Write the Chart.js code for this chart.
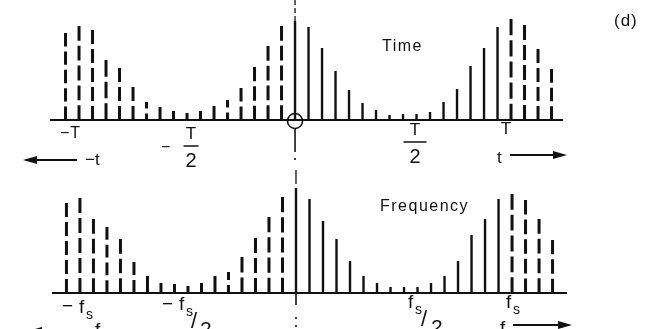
<!DOCTYPE html>
<html>
<head>
<meta charset="utf-8">
<script src="https://cdn.jsdelivr.net/npm/chart.js@4.4.1/dist/chart.umd.min.js"></script>
<style>
  html, body { margin: 0; padding: 0; background: #fff; }
  #wrap { position: relative; width: 650px; height: 329px; overflow: hidden; }
  .panel { position: absolute; left: 0; width: 650px; }
  #timePanel { top: 0; height: 175px; }
  #freqPanel { top: 165px; height: 164px; }
</style>
</head>
<body>
<div id="wrap">
  <div class="panel" id="timePanel"><canvas id="timeChart"></canvas></div>
  <div class="panel" id="freqPanel"><canvas id="freqChart"></canvas></div>
</div>
<script>
// sample index n; one period is 16 samples (n = 0..15 drawn solid, the rest dashed)
const sampleIdx = [-17, -16, -15, -14, -13, -12, -11, -10, -9, -8, -7, -6, -5, -4, -3, -2, -1,
                   0, 1, 2, 3, 4, 5, 6, 7, 8, 9, 10, 11, 12, 13, 14, 15, 16, 17, 18, 19];
const timeHeights = [87, 94, 90, 60, 52, 33, 18, 13, 9, 7, 9, 14, 20, 32, 53, 74, 94,
                     99, 93, 72, 49, 30, 17, 10, 5, 6, 6, 8, 18, 31, 54, 72, 93, 101, 95, 71, 51];
const freqHeights = [90, 95, 74, 66, 54, 31, 17, 10, 9, 7, 10, 17, 21, 36, 55, 76, 96,
                     105, 94, 72, 54, 32, 17, 10, 6, 6, 6, 10, 17, 32, 58, 74, 94, 99, 93, 74, 53];
const periodFirst = 0;
const periodLast = 15;
const ink = '#111';
const font = '"Liberation Sans", Arial, sans-serif';

function stemPoints(heights, keep) {
  const pts = [];
  sampleIdx.forEach((n, i) => {
    if (!keep(n)) return;
    pts.push({x: n, y: 0}, {x: n, y: heights[i]}, {x: n, y: null});
  });
  return pts;
}

// dash pattern for a stem of length len px: dashes at both ends, gaps of 5px
function stemDash(len) {
  const gap = 5;
  const k = Math.max(1, Math.round(len / 22 + 0.7));
  if (k === 1) return [];
  return [(len - (k - 1) * gap) / k, gap];
}

function seg(ctx, x1, y1, x2, y2) {
  ctx.beginPath();
  ctx.moveTo(x1, y1);
  ctx.lineTo(x2, y2);
  ctx.stroke();
}

// horizontal arrow, tip at xTip
function arrow(ctx, xTail, xTip, y) {
  const d = xTip > xTail ? 1 : -1;
  ctx.lineWidth = 1.8;
  ctx.setLineDash([]);
  seg(ctx, xTail, y, xTip - d * 10, y);
  ctx.beginPath();
  ctx.moveTo(xTip, y);
  ctx.lineTo(xTip - d * 14, y - 4);
  ctx.lineTo(xTip - d * 14, y + 4);
  ctx.closePath();
  ctx.fill();
}

function text(ctx, str, x, y, size, spacing) {
  ctx.font = size + 'px ' + font;
  ctx.letterSpacing = (spacing || 0) + 'px';
  ctx.textAlign = 'left';
  ctx.textBaseline = 'alphabetic';
  ctx.fillText(str, x, y);
}

function textC(ctx, str, x, y, size) {
  ctx.font = size + 'px ' + font;
  ctx.letterSpacing = '0px';
  ctx.textAlign = 'center';
  ctx.textBaseline = 'alphabetic';
  ctx.fillText(str, x, y);
}

// T over 2 with a bar between
function frac(ctx, x, y, barW) {
  textC(ctx, 'T', x, y, 17);
  ctx.lineWidth = 1.5;
  ctx.setLineDash([]);
  seg(ctx, x - barW / 2, y + 7, x + barW / 2, y + 7);
  textC(ctx, '2', x, y + 28, 20);
}

// f with subscript s
function fs(ctx, x, y) {
  text(ctx, 'f', x, y, 19);
  text(ctx, 's', x + 7, y + 6, 14);
}

const timeDecor = {
  id: 'timeDecor',
  beforeDatasetsDraw(chart) {
    const {ctx, scales: {x, y}} = chart;
    const x0 = x.getPixelForValue(0), y0 = y.getPixelForValue(0);
    ctx.save();
    ctx.strokeStyle = ink;
    ctx.lineWidth = 1.3;
    ctx.setLineDash([5, 3]);
    seg(ctx, x0, 0, x0, y0);
    ctx.restore();
  },
  afterDatasetsDraw(chart) {
    const {ctx, chartArea, scales: {x, y}} = chart;
    const x0 = x.getPixelForValue(0), y0 = y.getPixelForValue(0);
    ctx.save();
    ctx.strokeStyle = ink;
    ctx.fillStyle = ink;
    ctx.lineWidth = 2;
    seg(ctx, chartArea.left, y0, chartArea.right, y0);

    // origin marker and the axis through it
    ctx.lineWidth = 1.6;
    ctx.beginPath();
    ctx.arc(x0, y0 + 1, 7.5, 0, Math.PI * 2);
    ctx.stroke();
    seg(ctx, x0, y0 + 8, x0, y0 + 32);
    ctx.setLineDash([2, 6]);
    seg(ctx, x0, y0 + 38, x0, 165);
    ctx.setLineDash([]);

    const pT = x.getPixelForValue(16), pmT = x.getPixelForValue(-16);
    const pH = x.getPixelForValue(8), pmH = x.getPixelForValue(-8);

    text(ctx, '\u2212T', pmT - 19, y0 + 18, 16, 1);
    text(ctx, '\u2212', pmH - 26, y0 + 32, 16);
    frac(ctx, pmH + 4, y0 + 19, 15);
    frac(ctx, pH + 12, y0 + 15, 23);
    textC(ctx, 'T', pT - 5, y0 + 14, 17);

    arrow(ctx, 77, 23, y0 + 40);
    text(ctx, '\u2212t', 85, y0 + 45, 17);
    arrow(ctx, 510, 567, y0 + 35);
    text(ctx, 't', 497, y0 + 43, 17);

    text(ctx, 'Time', 382, 51, 16, 1.5);
    text(ctx, '(d)', 614, 26, 17, 1);
    ctx.restore();
  }
};

const freqDecor = {
  id: 'freqDecor',
  beforeDatasetsDraw(chart) {
    const {ctx, scales: {x, y}} = chart;
    const x0 = x.getPixelForValue(0), y0 = y.getPixelForValue(0);
    ctx.save();
    ctx.strokeStyle = ink;
    ctx.lineWidth = 1.3;
    ctx.setLineDash([2, 7, 14, 4]);
    seg(ctx, x0, -4, x0, y0);
    ctx.restore();
  },
  afterDatasetsDraw(chart) {
    const {ctx, chartArea, scales: {x, y}} = chart;
    const x0 = x.getPixelForValue(0), y0 = y.getPixelForValue(0);
    ctx.save();
    ctx.strokeStyle = ink;
    ctx.fillStyle = ink;
    ctx.lineWidth = 2;
    seg(ctx, chartArea.left, y0, chartArea.right, y0);

    ctx.lineWidth = 1.6;
    seg(ctx, x0, y0, x0, y0 + 12);
    ctx.setLineDash([2, 6]);
    seg(ctx, x0, y0 + 24, x0, chart.height);
    ctx.setLineDash([]);

    const pF = x.getPixelForValue(16), pmF = x.getPixelForValue(-16);
    const pH = x.getPixelForValue(8), pmH = x.getPixelForValue(-8);

    // -fs and fs
    text(ctx, '\u2212', pmF - 18, y0 + 19, 19);
    fs(ctx, pmF - 1, y0 + 20);
    fs(ctx, pF - 6, y0 + 15);

    // -fs/2 and fs/2
    text(ctx, '\u2212', pmH - 26, y0 + 17, 19);
    fs(ctx, pmH - 9, y0 + 17);
    text(ctx, '/', pmH + 3, y0 + 35, 22);
    text(ctx, '2', pmH + 12, y0 + 43, 21);
    fs(ctx, pH + 4, y0 + 15);
    text(ctx, '/', pH + 17, y0 + 33, 22);
    text(ctx, '2', pH + 27, y0 + 41, 21);

    arrow(ctx, 84, 28, y0 + 38);
    text(ctx, '\u2212f', 84, y0 + 43, 19);
    arrow(ctx, 513, 572, y0 + 32);
    text(ctx, 'f', 500, y0 + 41, 19);

    text(ctx, 'Frequency', 380, y0 - 82, 16, 1.5);
    ctx.restore();
  }
};

function makeChart(id, heights, xMin, xMax, padding, decor) {
  const dashed = n => n < periodFirst || n > periodLast;
  return new Chart(document.getElementById(id), {
    type: 'scatter',
    data: {
      datasets: [
        {
          data: stemPoints(heights, dashed),
          showLine: true, spanGaps: false,
          borderColor: ink, borderWidth: 3, borderCapStyle: 'butt',
          segment: {borderDash: c => stemDash(Math.abs(c.p1.y - c.p0.y))},
          pointRadius: 0
        },
        {
          data: stemPoints(heights, n => !dashed(n)),
          showLine: true, spanGaps: false,
          borderColor: ink, borderWidth: 2.4, borderCapStyle: 'butt',
          pointRadius: 0
        }
      ]
    },
    options: {
      responsive: true,
      maintainAspectRatio: false,
      animation: false,
      devicePixelRatio: 1,
      events: [],
      layout: {padding},
      plugins: {legend: {display: false}, tooltip: {enabled: false}},
      scales: {
        x: {type: 'linear', display: false, min: xMin, max: xMax},
        y: {display: false, min: 0, max: 105}
      }
    },
    plugins: [decor]
  });
}

makeChart('timeChart', timeHeights, -18.15, 19.85, {left: 50, right: 87, top: 15, bottom: 55}, timeDecor);
makeChart('freqChart', freqHeights, -18.07, 20.07, {left: 52, right: 83, top: 23, bottom: 36}, freqDecor);
</script>
</body>
</html>
